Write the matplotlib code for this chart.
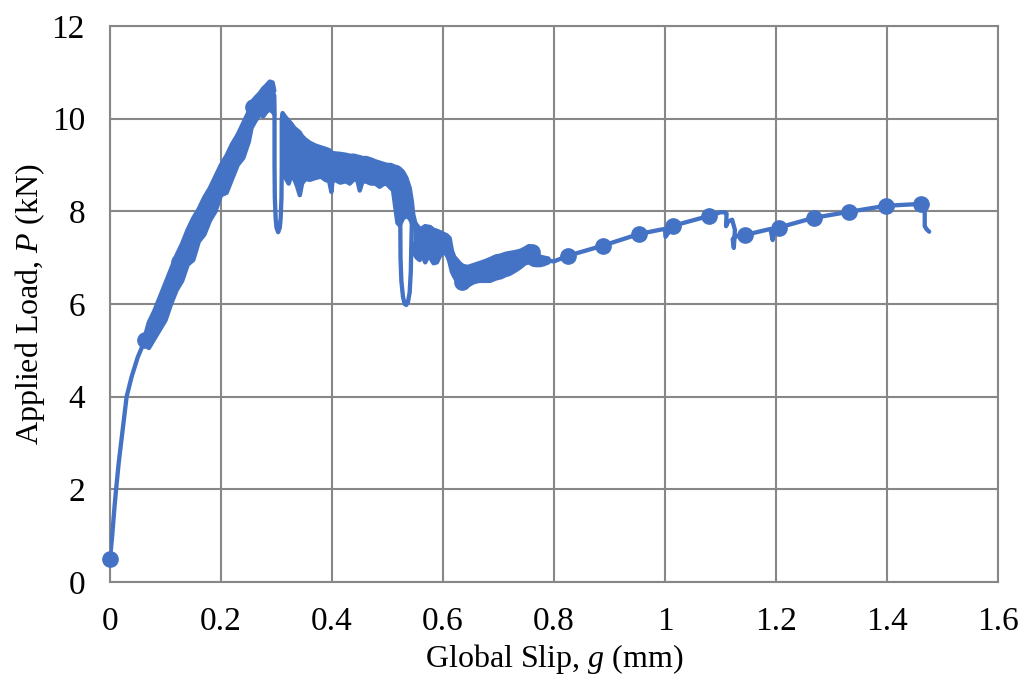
import matplotlib
matplotlib.use("Agg")
import matplotlib.pyplot as plt

plt.rcParams["font.family"] = ["Liberation Serif", "DejaVu Serif"]
plt.rcParams["mathtext.fontset"] = "custom"
plt.rcParams["mathtext.it"] = "Liberation Serif:italic"
plt.rcParams["mathtext.rm"] = "Liberation Serif"

# centre trace of the load-slip record (mm, kN)
trace_x = [0.0, 0.004, 0.008, 0.011, 0.016, 0.021, 0.026, 0.030, 0.039, 0.050,
           0.063, 0.075, 0.090, 0.105, 0.124, 0.140, 0.160, 0.178, 0.195,
           0.212, 0.230, 0.245, 0.258, 0.270, 0.280, 0.290, 0.296,
           0.2965, 0.2965, 0.297, 0.2985, 0.300, 0.303, 0.306, 0.3075, 0.309,
           0.3095, 0.3095, 0.311,
           0.32, 0.36, 0.40, 0.45, 0.50, 0.518, 0.523, 0.5235, 0.525, 0.528,
           0.531, 0.534, 0.537, 0.540, 0.542, 0.543, 0.544, 0.546,
           0.56, 0.60, 0.634, 0.66, 0.697, 0.73,
           0.760, 0.78, 0.80, 0.825, 0.888, 0.953, 0.990, 1.000, 1.001, 1.015,
           1.079, 1.100, 1.108, 1.111, 1.110, 1.114, 1.121, 1.126, 1.124, 1.122,
           1.127, 1.131, 1.144, 1.190, 1.194, 1.196, 1.205, 1.268, 1.332, 1.398,
           1.461, 1.468, 1.468, 1.471, 1.476]
trace_y = [0.5, 1.0, 1.6, 2.0, 2.6, 3.1, 3.6, 4.0, 4.43, 4.85,
           5.22, 5.55, 5.95, 6.4, 6.9, 7.3, 7.8, 8.2, 8.55,
           8.95, 9.4, 9.8, 10.15, 10.4, 10.55, 10.65, 10.5,
           10.2, 9.0, 8.3, 7.85, 7.65, 7.55, 7.65, 7.85, 8.3,
           9.0, 10.0, 10.1,
           9.6, 9.0, 8.9, 8.85, 8.7, 8.6, 7.9, 7.0, 6.5, 6.15,
           6.0, 5.98, 6.05, 6.25, 6.7, 7.3, 7.8, 7.8,
           7.3, 7.2, 6.48, 6.65, 6.91, 7.0,
           7.12, 6.95, 6.92, 7.04, 7.26, 7.51, 7.6, 7.62, 7.45, 7.69,
           7.9, 7.98, 7.98, 7.95, 7.68, 7.78, 7.82, 7.6, 7.21, 7.4,
           7.45, 7.47, 7.49, 7.62, 7.38, 7.62, 7.65, 7.86, 7.99, 8.12,
           8.16, 8.1, 7.68, 7.62, 7.56]

# markers visible on the record
mark_x = [0.0, 0.063, 0.124, 0.195, 0.258, 0.634, 0.697, 0.760, 0.825, 0.888,
          0.953, 1.015, 1.079, 1.144, 1.205, 1.268, 1.332, 1.398, 1.461]
mark_y = [0.5, 5.22, 6.9, 8.55, 10.26, 6.48, 6.91, 7.12, 7.04, 7.26,
          7.51, 7.69, 7.9, 7.49, 7.65, 7.86, 7.99, 8.12, 8.16]

# noisy bands (upper / lower envelopes of the oscillating record)
rise_x = [0.063, 0.070, 0.080, 0.090, 0.100, 0.110, 0.120, 0.130, 0.140, 0.150,
          0.160, 0.170, 0.180, 0.190, 0.200, 0.210, 0.220, 0.230, 0.240, 0.250,
          0.255, 0.262, 0.270, 0.276, 0.282, 0.288, 0.293, 0.296]
rise_hi = [5.3, 5.6, 5.85, 6.15, 6.45, 6.75, 7.05, 7.3, 7.6, 7.85,
           8.05, 8.3, 8.5, 8.75, 9.0, 9.2, 9.45, 9.65, 9.9, 10.15,
           10.35, 10.45, 10.55, 10.65, 10.72, 10.8, 10.78, 10.6]
rise_lo = [5.15, 5.05, 5.25, 5.45, 5.65, 6.0, 6.3, 6.5, 6.85, 6.95,
           7.35, 7.5, 7.8, 8.0, 8.35, 8.4, 8.7, 9.0, 9.15, 9.5,
           9.8, 9.95, 10.1, 10.05, 10.15, 10.2, 10.15, 10.1]

plat_x = [0.311, 0.315, 0.322, 0.326, 0.332, 0.337, 0.342, 0.346, 0.352,
          0.360, 0.370, 0.380, 0.388, 0.395, 0.399, 0.401, 0.405, 0.415, 0.425,
          0.432, 0.440, 0.446, 0.450, 0.455, 0.462, 0.470, 0.478, 0.486, 0.494,
          0.500, 0.506, 0.510, 0.514, 0.518, 0.522, 0.528, 0.534, 0.540, 0.544,
          0.546]
plat_hi = [10.12, 10.05, 9.95, 9.9, 9.8, 9.75, 9.7, 9.62, 9.55,
           9.48, 9.42, 9.38, 9.35, 9.32, 9.27, 9.26, 9.25, 9.24, 9.22,
           9.2, 9.2, 9.18, 9.17, 9.15, 9.15, 9.12, 9.08, 9.05, 9.02,
           9.0, 9.0, 8.98, 8.96, 8.95, 8.92, 8.85, 8.72, 8.5, 8.2,
           7.95]
plat_lo = [8.85, 8.75, 8.6, 8.75, 8.7, 8.55, 8.35, 8.6, 8.7,
           8.68, 8.72, 8.75, 8.68, 8.65, 8.42, 8.68, 8.68, 8.62, 8.65,
           8.6, 8.7, 8.66, 8.45, 8.65, 8.64, 8.6, 8.6, 8.53, 8.6,
           8.58, 8.5, 8.46, 8.1, 7.75, 7.7, 7.85, 7.9, 7.85, 7.75,
           7.7]

drop_x = [0.546, 0.550, 0.553, 0.558, 0.563, 0.568, 0.572, 0.577, 0.583, 0.589,
          0.595, 0.600, 0.607, 0.612, 0.616, 0.620, 0.625, 0.630, 0.636, 0.645,
          0.655, 0.665, 0.675, 0.685, 0.695, 0.705, 0.712, 0.720, 0.730, 0.740,
          0.748, 0.755, 0.762, 0.768, 0.775, 0.782, 0.790]
drop_hi = [7.95, 7.75, 7.7, 7.62, 7.64, 7.68, 7.67, 7.66, 7.6, 7.58,
           7.55, 7.52, 7.48, 7.42, 7.15, 7.02, 6.95, 6.88, 6.82, 6.8,
           6.84, 6.88, 6.92, 6.97, 7.02, 7.05, 7.08, 7.1, 7.12, 7.15,
           7.2, 7.25, 7.22, 7.1, 7.02, 7.0, 6.98]
drop_lo = [7.3, 7.05, 7.0, 6.95, 7.05, 6.9, 7.0, 7.0, 6.88, 6.9,
           7.05, 7.1, 7.1, 6.9, 6.7, 6.6, 6.5, 6.42, 6.37, 6.4,
           6.47, 6.5, 6.5, 6.5, 6.55, 6.58, 6.62, 6.65, 6.72, 6.8,
           6.88, 6.9, 6.85, 6.84, 6.84, 6.86, 6.9]

blue = "#4472C4"
grid_c = "#878787"

fig = plt.figure(figsize=(10.24, 6.81), dpi=100)
ax = fig.add_axes([0.1074, 0.1454, 0.8672, 0.8164])

for bx, hi, lo in [(rise_x, rise_hi, rise_lo), (plat_x, plat_hi, plat_lo),
                   (drop_x, drop_hi, drop_lo)]:
    ax.fill_between(bx, lo, hi, color=blue, lw=0, zorder=3)
    ax.plot(bx, hi, color=blue, lw=3.2, solid_capstyle="round", zorder=3)
    ax.plot(bx, lo, color=blue, lw=3.2, solid_capstyle="round", zorder=3)

ax.plot(trace_x, trace_y, color=blue, lw=3.1, solid_joinstyle="round",
        solid_capstyle="round", zorder=4)
ax.plot(mark_x, mark_y, "o", color=blue, markersize=11, zorder=5, clip_on=False)

ax.set_xlim(0, 1.6)
ax.set_ylim(0, 12)
ax.set_xticks([0, 0.2, 0.4, 0.6, 0.8, 1.0, 1.2, 1.4, 1.6])
ax.set_xticklabels(["0", "0.2", "0.4", "0.6", "0.8", "1", "1.2", "1.4", "1.6"])
ax.set_yticks([0, 2, 4, 6, 8, 10, 12])
ax.grid(True, color=grid_c, lw=1.5)
ax.set_axisbelow(True)
for s in ax.spines.values():
    s.set_color(grid_c)
    s.set_linewidth(1.5)
ax.tick_params(length=0, labelsize=24, pad=18)
ax.set_xlabel("Global Slip, $g$ (mm)", fontsize=23, labelpad=3)
ax.set_ylabel("Applied Load, $P$ (kN)", fontsize=23, labelpad=3)

fig.savefig("out.png", dpi=100)
